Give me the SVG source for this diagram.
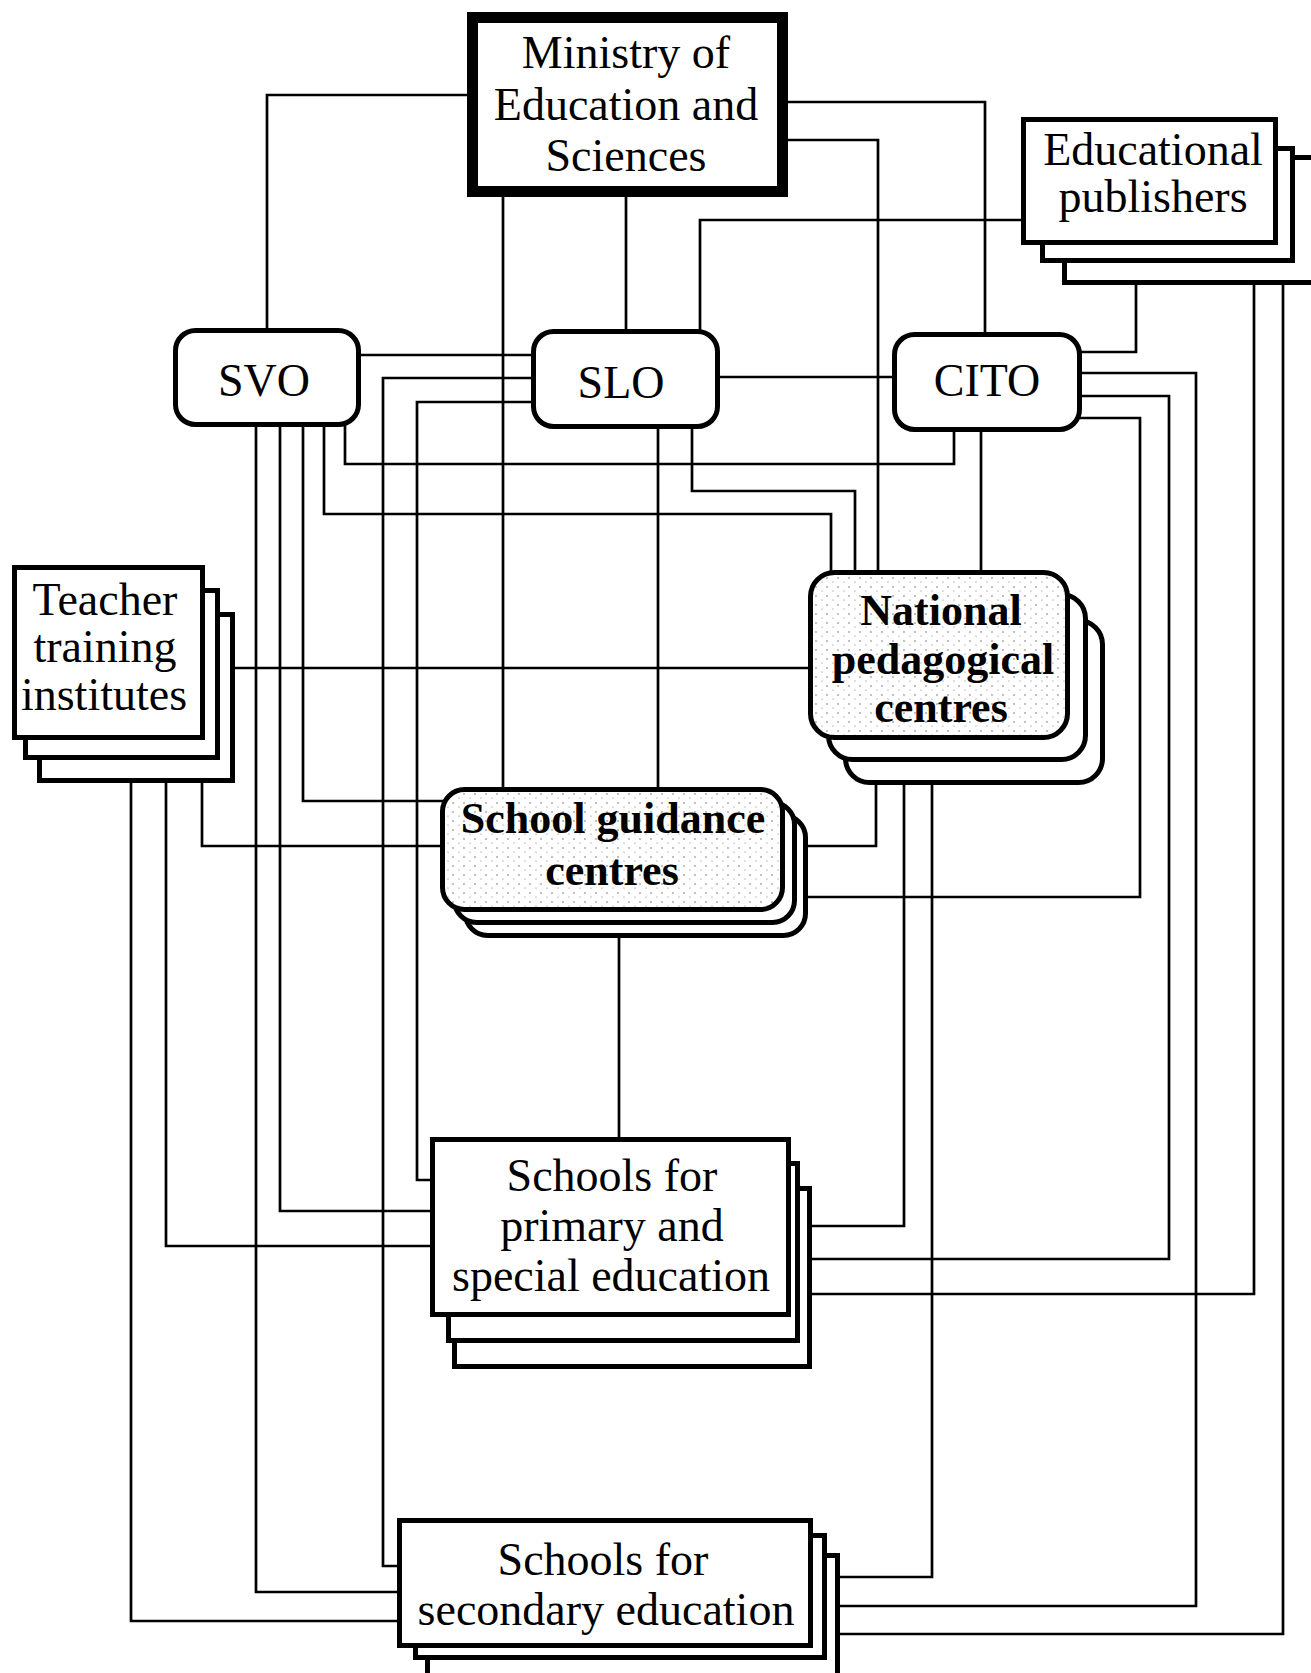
<svg xmlns="http://www.w3.org/2000/svg" width="1311" height="1673" viewBox="0 0 1311 1673">
<style>
.c{fill:none;stroke:#000;stroke-width:2.7}
.b{fill:#fff;stroke:#000;stroke-width:5}
.t{font-family:"Liberation Serif","Times New Roman",serif;font-size:46px;fill:#000;text-anchor:middle}
.tb{font-family:"Liberation Serif","Times New Roman",serif;font-size:44px;font-weight:700;fill:#000;text-anchor:middle}
</style>
<defs>
<pattern id="stip" width="11" height="9" patternUnits="userSpaceOnUse">
<rect width="11" height="9" fill="#fff"/>
<circle cx="2" cy="2" r="0.7" fill="#555"/>
<circle cx="8" cy="6" r="0.6" fill="#777"/>
</pattern>
</defs>
<rect width="1311" height="1673" fill="#fff"/>
<g id="connectors">
<path class="c" d="M472,95 H267 V333"/>
<path class="c" d="M503,190 V792"/>
<path class="c" d="M626,190 V334"/>
<path class="c" d="M785,102 H985 V337"/>
<path class="c" d="M785,140 H878 V575"/>
<path class="c" d="M1025,220 H700 V337"/>
<path class="c" d="M1078,352 H1136 V282"/>
<path class="c" d="M1078,373 H1196 V1606 H838"/>
<path class="c" d="M1078,396 H1169 V1259 H810"/>
<path class="c" d="M1078,418 H1140 V897 H806"/>
<path class="c" d="M345,424 V464 H954 V428"/>
<path class="c" d="M981,428 V575"/>
<path class="c" d="M358,355 H535"/>
<path class="c" d="M716,377 H896"/>
<path class="c" d="M535,378 H383 V1566 H401"/>
<path class="c" d="M535,402 H417 V1180 H434"/>
<path class="c" d="M658,426 V791"/>
<path class="c" d="M692,426 V491 H855 V575"/>
<path class="c" d="M324,424 V514 H831 V575"/>
<path class="c" d="M303,424 V801 H444"/>
<path class="c" d="M280,424 V1211 H434"/>
<path class="c" d="M256,424 V1592 H401"/>
<path class="c" d="M232,668 H812"/>
<path class="c" d="M202,780 V846 H444"/>
<path class="c" d="M166,780 V1246 H434"/>
<path class="c" d="M131,780 V1621 H401"/>
<path class="c" d="M619,935 V1141"/>
<path class="c" d="M805,846 H876 V782"/>
<path class="c" d="M904,782 V1226 H810"/>
<path class="c" d="M932,782 V1577 H838"/>
<path class="c" d="M1254,282 V1294 H810"/>
<path class="c" d="M1283,282 V1634 H838"/>
</g>
<g id="ministry">
<rect x="472.5" y="17.5" width="310" height="174" fill="#fff" stroke="#000" stroke-width="11"/>
<text class="t" x="626" y="68">Ministry of</text>
<text class="t" x="626" y="120">Education and</text>
<text class="t" x="626" y="171">Sciences</text>
</g>
<g id="publishers">
<rect class="b" x="1064.5" y="157.5" width="260" height="125"/>
<rect class="b" x="1042.5" y="148.5" width="250" height="112"/>
<rect class="b" x="1023.5" y="119.5" width="252" height="123"/>
<text class="t" x="1153" y="165" font-size="45">Educational</text>
<text class="t" x="1153" y="212" font-size="45">publishers</text>
</g>
<g id="svo">
<rect class="b" x="175.5" y="330.5" width="183" height="94" rx="20"/>
<text class="t" x="264" y="396">SVO</text>
</g>
<g id="slo">
<rect class="b" x="533.5" y="331.5" width="184" height="95" rx="20"/>
<text class="t" x="621" y="398">SLO</text>
</g>
<g id="cito">
<rect class="b" x="894.5" y="334.5" width="185" height="95" rx="20"/>
<text class="t" x="987" y="396">CITO</text>
</g>
<g id="teacher-training">
<rect class="b" x="39.5" y="614.5" width="193" height="166"/>
<rect class="b" x="25.5" y="590.5" width="192" height="167"/>
<rect class="b" x="14.5" y="567.5" width="188" height="170"/>
<text class="t" x="105" y="615">Teacher</text>
<text class="t" x="105" y="662">training</text>
<text class="t" x="104" y="710">institutes</text>
</g>
<g id="national-pedagogical">
<rect class="b" x="845.5" y="620.5" width="257" height="162" rx="24"/>
<rect class="b" x="828.5" y="594.5" width="257" height="165" rx="24"/>
<rect x="810.5" y="572.5" width="257" height="165" rx="24" fill="url(#stip)" stroke="#000" stroke-width="5"/>
<text class="tb" x="941" y="625">National</text>
<text class="tb" x="943" y="674">pedagogical</text>
<text class="tb" x="941" y="722">centres</text>
</g>
<g id="school-guidance">
<rect class="b" x="465.5" y="815.5" width="340" height="120" rx="22"/>
<rect class="b" x="454.5" y="802.5" width="340" height="120" rx="22"/>
<rect x="442.5" y="789.5" width="340" height="120" rx="22" fill="url(#stip)" stroke="#000" stroke-width="5"/>
<text class="tb" x="613" y="833">School guidance</text>
<text class="tb" x="612" y="885">centres</text>
</g>
<g id="primary">
<rect class="b" x="454.5" y="1188.5" width="355" height="178"/>
<rect class="b" x="448.5" y="1163.5" width="349" height="177"/>
<rect class="b" x="432.5" y="1139.5" width="356" height="175"/>
<text class="t" x="612" y="1191">Schools for</text>
<text class="t" x="612" y="1241">primary and</text>
<text class="t" x="611" y="1291">special education</text>
</g>
<g id="secondary">
<rect class="b" x="427.5" y="1555.5" width="410" height="140"/>
<rect class="b" x="415.5" y="1535.5" width="409" height="122"/>
<rect class="b" x="399.5" y="1520.5" width="411" height="125"/>
<text class="t" x="603" y="1575">Schools for</text>
<text class="t" x="606" y="1625">secondary education</text>
</g>
</svg>
